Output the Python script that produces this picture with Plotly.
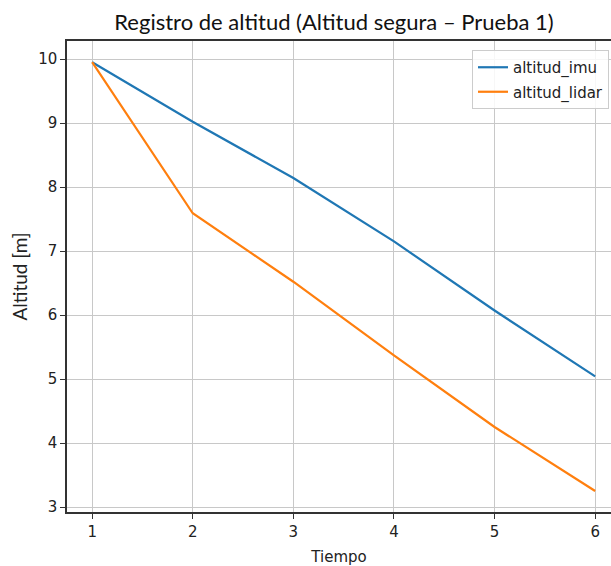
import plotly.graph_objects as go

tiempo = [1, 2, 3, 4, 5, 6]
altitud_imu = [9.95, 9.02, 8.14, 7.15, 6.07, 5.04]
altitud_lidar = [9.95, 7.59, 6.52, 5.37, 4.25, 3.25]
x_ticks = [1, 2, 3, 4, 5, 6]
y_ticks = [3, 4, 5, 6, 7, 8, 9, 10]

tick_font = dict(family="DejaVu Sans", size=15, color="#222222")
calib_font = "Lato, Open Sans, sans-serif"

fig = go.Figure()
fig.add_trace(go.Scatter(x=tiempo, y=altitud_imu, mode="lines", name="altitud_imu",
                         legendgroup="a", line=dict(color="#1f77b4", width=2.2)))
fig.add_trace(go.Scatter(x=tiempo, y=altitud_lidar, mode="lines", name="altitud_lidar",
                         legendgroup="b", line=dict(color="#ff7f0e", width=2.2)))

fig.update_layout(
    width=611, height=566,
    margin=dict(l=67, r=0, t=41, b=54),
    paper_bgcolor="white", plot_bgcolor="white",
    title=dict(text="Registro de altitud (Altitud segura – Prueba 1)",
               x=334/611, xanchor="center", xref="container",
               y=1-22/566, yanchor="middle", yref="container",
               font=dict(family=calib_font, size=22, color="#111111")),
    legend=dict(x=(472-67)/544, y=(512-50)/471, xanchor="left", yanchor="top",
                bgcolor="rgba(255,255,255,0.85)", bordercolor="#cccccc", borderwidth=1,
                traceorder="grouped", tracegroupgap=2,
                font=dict(family="DejaVu Sans", size=15, color="#222222")),
    showlegend=True,
)
fig.update_xaxes(range=[0.75, 0.75 + 544/100.6], tickvals=x_ticks,
                 showgrid=True, gridcolor="#c8c8c8", gridwidth=1,
                 showline=True, linecolor="#333333", linewidth=1.5, mirror=True,
                 ticks="outside", ticklen=5, tickcolor="#333333", tickwidth=1.2,
                 tickfont=tick_font, zeroline=False,
                 title=dict(text="Tiempo", font=tick_font, standoff=15))
fig.update_yaxes(range=[3 - 5/64, 10 + 18/64], tickvals=y_ticks,
                 showgrid=True, gridcolor="#c8c8c8", gridwidth=1,
                 showline=True, linecolor="#333333", linewidth=1.5, mirror=False,
                 ticks="outside", ticklen=5, tickcolor="#333333", tickwidth=1.2,
                 tickfont=tick_font, zeroline=False,
                 title=dict(text="Altitud [m]", font=dict(family=calib_font, size=19, color="#222222"),
                            standoff=6))

fig.write_html("out.html", config={"displayModeBar": False},
               post_script="document.body.style.margin='0';document.body.style.overflow='hidden';")
